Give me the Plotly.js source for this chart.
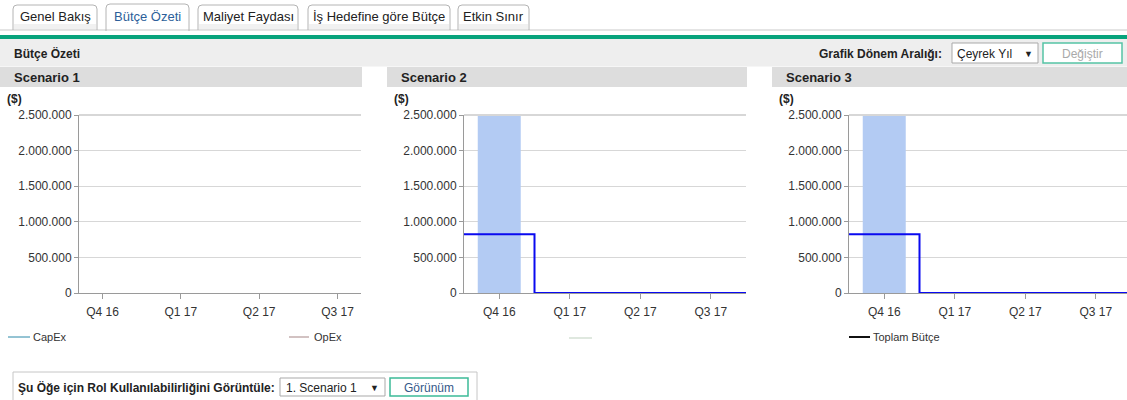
<!DOCTYPE html>
<html><head><meta charset="utf-8">
<script src="https://cdn.plot.ly/plotly-3.0.1.min.js"></script>
<style>html,body{margin:0;padding:0;background:#fff;overflow:hidden}#chart{width:1127px;height:400px}</style>
</head><body><div id="chart"></div>
<script>
// ---------- data ----------
const quarters = ['Q4 16', 'Q1 17', 'Q2 17', 'Q3 17'];
const scenarios = ['Scenario 1', 'Scenario 2', 'Scenario 3'];
const capEx1 = [null, null, null, null];
const opEx1 = [null, null, null, null];
const currentPeriod2 = [2500000, 0, 0, 0];
const currentPeriod3 = [2500000, 0, 0, 0];
const totalBudget2 = [825000, 0, 0, 0];
const totalBudget3 = [825000, 0, 0, 0];
const yTicks = [0, 500000, 1000000, 1500000, 2000000, 2500000];
const tabNames = ['Genel Bakış', 'Bütçe Özeti', 'Maliyet Faydası', 'İş Hedefine göre Bütçe', 'Etkin Sınır'];
const legend1Names = ['CapEx', 'OpEx'];
const legend3Names = ['Toplam Bütçe'];
const pageTitle = 'Bütçe Özeti';
const periodLabel = 'Grafik Dönem Aralığı:';
const periodValue = 'Çeyrek Yıl';
const changeLabel = 'Değiştir';
const roleLabel = 'Şu Öğe için Rol Kullanılabilirliğini Görüntüle:';
const roleValue = '1. Scenario 1';
const viewLabel = 'Görünüm';
const unitLabel = '($)';

// ---------- helpers ----------
const W = 1127, H = 400;
const X = p => p / W;
const Y = p => 1 - p / H;
const FONT = '"Liberation Sans", Arial, sans-serif';
const shapes = [];
const annotations = [];
function rect(x0, y0, x1, y1, fill, line, lw) {
  shapes.push({type: 'rect', xref: 'paper', yref: 'paper', x0: X(x0), x1: X(x1), y0: Y(y1), y1: Y(y0),
    fillcolor: fill, line: {color: line || fill, width: lw === undefined ? 0 : lw}, layer: 'below'});
}
function hline(x0, x1, y, color, w) {
  shapes.push({type: 'line', xref: 'paper', yref: 'paper', x0: X(x0), x1: X(x1), y0: Y(y), y1: Y(y),
    line: {color: color, width: w}});
}
function text(t, x, y, opts) {
  opts = opts || {};
  annotations.push({text: opts.bold ? '<b>' + t + '</b>' : t, xref: 'paper', yref: 'paper', x: X(x), y: Y(y),
    xanchor: opts.anchor || 'left', yanchor: 'middle', showarrow: false, borderpad: 0,
    font: {family: FONT, size: opts.size || 12, color: opts.color || '#222'}});
}
function tabPath(x0, x1, yt, yb, r) {
  return `M${X(x0)},${Y(yb)} L${X(x0)},${Y(yt + r)} Q${X(x0)},${Y(yt)} ${X(x0 + r)},${Y(yt)} ` +
         `L${X(x1 - r)},${Y(yt)} Q${X(x1)},${Y(yt)} ${X(x1)},${Y(yt + r)} L${X(x1)},${Y(yb)}`;
}
function stepXY(vals) {
  const xs = [], ys = [];
  vals.forEach((v, i) => { xs.push(i - 0.5); ys.push(v); });
  xs.push(vals.length - 0.5); ys.push(vals[vals.length - 1]);
  return {xs, ys};
}

// ---------- page chrome ----------
hline(0, W, 30, '#c9c9c9', 1);
const tabBoxes = [[13, 97], [106, 189], [198, 298], [308, 450], [458, 529]];
tabBoxes.forEach((b, i) => {
  const active = i === 1;
  if (!active) rect(b[0] + 1, 24, b[1] - 1, 29.5, '#f1f1f1');
  if (active) rect(b[0] + 0.5, 28, b[1] - 0.5, 33, '#ffffff');
  shapes.push({type: 'path', xref: 'paper', yref: 'paper', path: tabPath(b[0], b[1], active ? 4 : 5, active ? 31 : 30, 4),
    line: {color: '#b4b4b4', width: 1}});
  text(tabNames[i], (b[0] + b[1]) / 2, 16.5, {anchor: 'center', size: 13, color: active ? '#2d5f9a' : '#222'});
});
rect(0, 35, W, 39, '#07a37c');
rect(0, 39, W, 66.5, '#eeeeee');
text(pageTitle, 13, 53, {bold: true, size: 12});
text(periodLabel, 943, 54, {bold: true, anchor: 'right'});
rect(952, 43, 1038, 63, '#ffffff', '#a9a9a9', 1);
text(periodValue, 956, 53.5);
text('▼', 1028, 53.5, {anchor: 'center', size: 9});
rect(1043, 43, 1122, 63, '#ffffff', '#56c3a5', 1.5);
text(changeLabel, 1082.5, 53.5, {anchor: 'center', color: '#a9a9a9'});

const panelLeft = [0, 387, 772];
const panelRight = [362, 747, 1127];
scenarios.forEach((s, i) => {
  rect(panelLeft[i], 67, panelRight[i], 87, '#dddddd');
  text(s, panelLeft[i] + 13, 77, {bold: true, size: 13});
  text(unitLabel, panelLeft[i] + 6, 99, {bold: true, size: 12});
});

// legends
hline(8, 30, 337, '#2b88a8', 1);
text(legend1Names[0], 32, 337, {size: 11, color: '#333'});
hline(289, 309, 337, '#a58585', 1);
text(legend1Names[1], 313, 337, {size: 11, color: '#333'});
hline(569, 592, 338, '#dfe8df', 2);
hline(849, 870, 337, '#111111', 2);
text(legend3Names[0], 872, 337, {size: 11, color: '#333'});

// bottom bar
rect(13, 372, 477, 412, '#ffffff', '#c6c6c6', 1);
text(roleLabel, 17, 387.5, {bold: true});
rect(280, 378, 385, 396, '#ffffff', '#a9a9a9', 1);
text(roleValue, 285, 387.5);
text('▼', 374, 387.5, {anchor: 'center', size: 9});
rect(390, 378, 468, 396, '#ffffff', '#3dbb98', 1.5);
text(viewLabel, 429, 387.5, {anchor: 'center', color: '#34588a'});

// ---------- axes ----------
const yDomain = [Y(293), Y(115)];
function xAx(d0, d1, range) {
  return {domain: [X(d0), Math.min(1, X(d1))], range: range, tickvals: [0, 1, 2, 3], ticktext: quarters,
    showgrid: false, zeroline: false, showline: true, linecolor: '#9a9a9a', linewidth: 1,
    ticks: 'outside', ticklen: 5, tickcolor: '#9a9a9a', tickfont: {family: FONT, size: 12, color: '#333'},
    ticklabelstandoff: 3, fixedrange: true};
}
function yAx(anchor) {
  return {domain: yDomain, range: [0, 2500000], tickvals: yTicks, tickformat: ',d', anchor: anchor,
    showgrid: true, gridcolor: '#d7d7d7', gridwidth: 1, zeroline: false, showline: true, linecolor: '#9a9a9a',
    ticks: 'outside', ticklen: 4, tickcolor: '#9a9a9a', tickfont: {family: FONT, size: 12, color: '#333'},
    fixedrange: true};
}
const layout = {
  width: W, height: H, margin: {l: 0, r: 0, t: 0, b: 0},
  paper_bgcolor: '#ffffff', plot_bgcolor: 'rgba(0,0,0,0)',
  separators: ',.', showlegend: false, bargap: 0.39,
  font: {family: FONT, size: 12, color: '#333'},
  xaxis: xAx(79, 361, [-0.3, 3.3]), yaxis: yAx('x'),
  xaxis2: xAx(464, 746, [-0.5, 3.5]), yaxis2: yAx('x2'),
  xaxis3: xAx(849, 1131, [-0.5, -0.5 + (1127 - 849) / 70.5]), yaxis3: yAx('x3'),
  shapes: shapes, annotations: annotations
};
layout.xaxis.anchor = 'y'; layout.xaxis2.anchor = 'y2'; layout.xaxis3.anchor = 'y3';
// thicker top border of each plot
[['x', 'y'], ['x2', 'y2'], ['x3', 'y3']].forEach(a => {
  shapes.push({type: 'line', xref: a[0] + ' domain', yref: a[1] + ' domain', x0: 0, x1: 1, y0: 1, y1: 1,
    line: {color: '#d7d7d7', width: 2}});
});

const idx = quarters.map((q, i) => i);
const s2 = stepXY(totalBudget2), s3 = stepXY(totalBudget3);
const traces = [
  {type: 'scatter', mode: 'lines', x: idx, y: capEx1, xaxis: 'x', yaxis: 'y', name: legend1Names[0], line: {color: '#2b88a8'}},
  {type: 'scatter', mode: 'lines', x: idx, y: opEx1, xaxis: 'x', yaxis: 'y', name: legend1Names[1], line: {color: '#a58585'}},
  {type: 'bar', x: idx, y: currentPeriod2, xaxis: 'x2', yaxis: 'y2', marker: {color: '#b3cbf3', line: {width: 0}}, hoverinfo: 'skip'},
  {type: 'scatter', mode: 'lines', x: s2.xs, y: s2.ys, xaxis: 'x2', yaxis: 'y2', name: legend3Names[0], line: {color: '#0a0af0', width: 2, shape: 'hv'}},
  {type: 'bar', x: idx, y: currentPeriod3, xaxis: 'x3', yaxis: 'y3', marker: {color: '#b3cbf3', line: {width: 0}}, hoverinfo: 'skip'},
  {type: 'scatter', mode: 'lines', x: s3.xs, y: s3.ys, xaxis: 'x3', yaxis: 'y3', name: legend3Names[0], line: {color: '#0a0af0', width: 2, shape: 'hv'}}
];
Plotly.newPlot('chart', traces, layout, {displayModeBar: false, staticPlot: true});
</script>
</body></html>
